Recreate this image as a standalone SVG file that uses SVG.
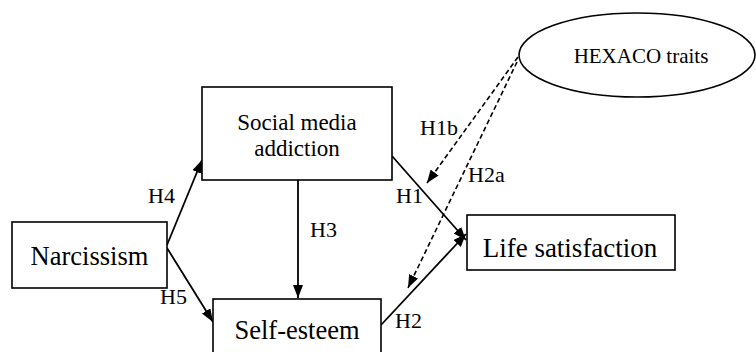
<svg xmlns="http://www.w3.org/2000/svg" width="756" height="352" viewBox="0 0 756 352">
<style>
.box{fill:#fff;stroke:#000;stroke-width:1.6}
.t{font-family:"Liberation Serif","Times New Roman",serif;fill:#000}
.ln{stroke:#000;stroke-width:1.8;fill:none}
.dash{stroke:#000;stroke-width:1.6;fill:none;stroke-dasharray:5,3}
.lbl{font-family:"Liberation Serif","Times New Roman",serif;font-size:22px;fill:#000}
</style>
<defs>
<marker id="ah" markerUnits="userSpaceOnUse" markerWidth="14" markerHeight="12" refX="13" refY="5" orient="auto">
<path d="M0,0 L13,5 L0,10 Z" fill="#000"/>
</marker>
</defs>
<rect width="756" height="352" fill="#fff"/>
<g id="connectors">
<line class="ln" x1="167" y1="245" x2="202" y2="160" marker-end="url(#ah)"/>
<line class="ln" x1="167" y1="248" x2="213" y2="322" marker-end="url(#ah)"/>
<line class="ln" x1="298" y1="180" x2="298" y2="298" marker-end="url(#ah)"/>
<line class="ln" x1="392" y1="156" x2="466" y2="240" marker-end="url(#ah)"/>
<line class="ln" x1="381" y1="325" x2="466" y2="234" marker-end="url(#ah)"/>
<line class="dash" x1="518" y1="57" x2="427" y2="183" marker-end="url(#ah)"/>
<line class="dash" x1="517" y1="62" x2="408" y2="288" marker-end="url(#ah)"/>
<text class="lbl" x="148" y="203">H4</text>
<text class="lbl" x="160" y="304">H5</text>
<text class="lbl" x="310" y="237">H3</text>
<text class="lbl" x="396" y="203">H1</text>
<text class="lbl" x="420" y="135">H1b</text>
<text class="lbl" x="468" y="182">H2a</text>
<text class="lbl" x="395" y="328">H2</text>
</g>
<g id="social-media-addiction">
<rect class="box" x="202" y="87" width="190" height="93"/>
<text class="t" font-size="23" text-anchor="middle" x="297" y="130">Social media</text>
<text class="t" font-size="23" text-anchor="middle" x="297" y="156">addiction</text>
</g>
<g id="narcissism">
<rect class="box" x="12" y="222" width="155" height="66"/>
<text class="t" font-size="26.5" text-anchor="middle" x="89.5" y="265">Narcissism</text>
</g>
<g id="self-esteem">
<rect class="box" x="213" y="299" width="168" height="70"/>
<text class="t" font-size="26.5" text-anchor="middle" x="297" y="339">Self-esteem</text>
</g>
<g id="life-satisfaction">
<rect class="box" x="467" y="215" width="208" height="55"/>
<text class="t" font-size="27" text-anchor="middle" x="570" y="257">Life satisfaction</text>
</g>
<g id="hexaco-traits">
<ellipse class="box" cx="637" cy="55" rx="118" ry="42"/>
<text class="t" font-size="21" text-anchor="middle" x="641" y="63">HEXACO traits</text>
</g>
</svg>
